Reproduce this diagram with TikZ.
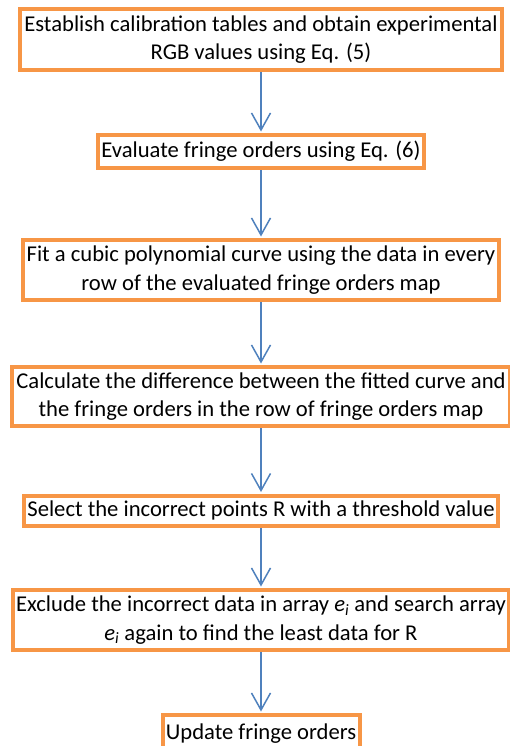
\documentclass[tikz,border=0pt]{standalone}
\usepackage{fontspec}
\setmainfont{Carlito}
\usetikzlibrary{arrows.meta}
\definecolor{frame}{HTML}{F79646}
\definecolor{flowblue}{HTML}{4F81BD}
\newcommand{\AxisX}{261}
\newcommand{\ArrI}{\textit{e}\textsubscript{\textit{i}}}

\begin{document}
\begin{tikzpicture}[
    x=1bp, y=-1bp,
    font=\fontsize{22.7}{28.5}\selectfont,
    stepbox/.style={draw=frame, line width=4bp, fill=white, inner sep=0pt, align=center},
    flow/.style={-{Straight Barb[length=17bp, width=19bp, line width=1.5bp]}, line width=1.5bp, draw=flowblue, shorten >=1.5bp},
  ]
\useasboundingbox (0,0) rectangle (510,746);

% --- The steps, top to bottom ------------------------------------------------
\node[stepbox, minimum width=481bp, minimum height=61bp] (calib) at (\AxisX, 39.5)
  {Establish calibration tables and obtain experimental\\RGB values using Eq. (5)};
\node[stepbox, minimum width=326bp, minimum height=33bp] (evaluate) at (\AxisX, 151.5)
  {Evaluate fringe orders using Eq. (6)};
\node[stepbox, minimum width=476bp, minimum height=60bp] (fit) at (\AxisX, 270)
  {Fit a cubic polynomial curve using the data in every\\row of the evaluated fringe orders map};
\node[stepbox, minimum width=497bp, minimum height=59bp] (diff) at (\AxisX, 396.5)
  {Calculate the difference between the fitted curve and\\the fringe orders in the row of fringe orders map};
\node[stepbox, minimum width=473bp, minimum height=30bp] (select) at (\AxisX, 510.5)
  {Select the incorrect points R with a threshold value};
\node[stepbox, minimum width=495bp, minimum height=60bp] (exclude) at (\AxisX, 620)
  {Exclude the incorrect data in array \ArrI{} and search array\\\ArrI{} again to find the least data for R};
\node[stepbox, minimum width=197bp, minimum height=38bp] (update) at (\AxisX, 734)
  {Update fringe orders};

% --- Connectors ----------------------------------------------------------------
\foreach \from/\to in {calib/evaluate, evaluate/fit, fit/diff, diff/select, select/exclude, exclude/update}
  \draw[flow] (\from) -- (\to);

\end{tikzpicture}
\end{document}
